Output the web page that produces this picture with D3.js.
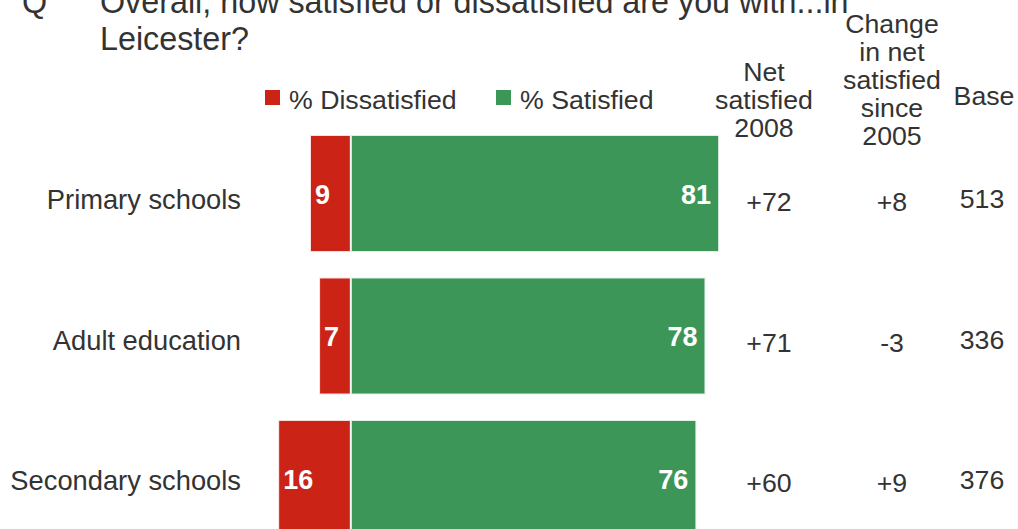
<!DOCTYPE html>
<html>
<head>
<meta charset="utf-8">
<script src="https://cdn.jsdelivr.net/npm/d3@7"></script>
<style>
  html, body { margin: 0; padding: 0; background: #fff; }
  svg { display: block; font-family: Arial, "Liberation Sans", sans-serif; }
</style>
</head>
<body>
<script>
// Satisfaction with education services in Leicester
const categories = ["Primary schools", "Adult education", "Secondary schools"];
const dissatisfied = [9, 7, 16];
const satisfied = [81, 78, 76];
const netSatisfied2008 = ["+72", "+71", "+60"];
const changeSince2005 = ["+8", "-3", "+9"];
const baseSizes = ["513", "336", "376"];

const seriesNames = ["% Dissatisfied", "% Satisfied"];
const seriesColors = ["#cc2317", "#3c9658"];
const columnHeaders = [
  ["Net", "satisfied", "2008"],
  ["Change", "in net", "satisfied", "since", "2005"],
  ["Base"]
];

const W = 1018, H = 529;
const textColor = "#333";

const svg = d3.select("body").append("svg")
  .attr("width", W).attr("height", H);

// Horizontal scale: dissatisfied to the left of zero, satisfied to the right
const x = d3.scaleLinear().domain([-20, 90]).range([260, 760]);
const y = d3.scaleBand().domain(categories)
  .range([122.25, 549.75]).paddingInner(0.179).paddingOuter(0.0895);
// Row text sits on a slightly tighter grid than the bars
const rowText = d3.scalePoint().domain(categories).range([194, 475]);

// Question title
const title = svg.append("g").attr("fill", textColor).style("font-size", "32.3px");
title.append("text").attr("x", 22).attr("y", 13).text("Q");
title.append("text").attr("x", 100).attr("y", 13)
  .text("Overall, how satisfied or dissatisfied are you with...in");
title.append("text").attr("x", 100).attr("y", 50).text("Leicester?");

// Legend
const legend = svg.append("g").style("font-size", "26.7px");
const legendX = [265, 496];
seriesNames.forEach((name, i) => {
  legend.append("rect").attr("x", legendX[i]).attr("y", 90)
    .attr("width", 15).attr("height", 15).attr("fill", seriesColors[i]);
  legend.append("text").attr("x", legendX[i] + 24).attr("y", 109)
    .attr("fill", textColor).text(name);
});

// Column headers
const headerCols = [
  { cx: 764, lines: columnHeaders[0], first: 81 },
  { cx: 892, lines: columnHeaders[1], first: 33 },
  { cx: 984, lines: columnHeaders[2], first: 105 }
];
const headers = svg.append("g").attr("fill", textColor)
  .style("font-size", "26.7px").attr("text-anchor", "middle");
headerCols.forEach(col => {
  col.lines.forEach((line, j) => {
    headers.append("text").attr("x", col.cx).attr("y", col.first + j * 28).text(line);
  });
});

const rows = categories.map((c, i) => ({
  cat: c, dis: dissatisfied[i], sat: satisfied[i],
  net: netSatisfied2008[i], chg: changeSince2005[i], base: baseSizes[i]
}));

const g = svg.append("g");

// Dissatisfied bars (to the left of zero)
g.selectAll("rect.dis").data(rows).join("rect")
  .attr("class", "dis")
  .attr("x", d => x(-d.dis))
  .attr("y", d => y(d.cat))
  .attr("width", d => x(0) - x(-d.dis))
  .attr("height", y.bandwidth())
  .attr("fill", seriesColors[0])
  .attr("stroke", "#fff").attr("stroke-width", 2).attr("stroke-opacity", 0.85);

// Satisfied bars (to the right of zero)
g.selectAll("rect.sat").data(rows).join("rect")
  .attr("class", "sat")
  .attr("x", x(0))
  .attr("y", d => y(d.cat))
  .attr("width", d => x(d.sat) - x(0))
  .attr("height", y.bandwidth())
  .attr("fill", seriesColors[1])
  .attr("stroke", "#fff").attr("stroke-width", 2).attr("stroke-opacity", 0.85);

const mid = d => y(d.cat) + y.bandwidth() / 2;

// Value labels inside bars
g.selectAll("text.disv").data(rows).join("text")
  .attr("x", d => x(-d.dis) + 5)
  .attr("y", d => mid(d) + 10)
  .attr("fill", "#fff").style("font-weight", "bold").style("font-size", "27px")
  .text(d => d.dis);
g.selectAll("text.satv").data(rows).join("text")
  .attr("x", d => x(d.sat) - 8)
  .attr("y", d => mid(d) + 10)
  .attr("text-anchor", "end")
  .attr("fill", "#fff").style("font-weight", "bold").style("font-size", "27px")
  .text(d => d.sat);

// Category labels
g.selectAll("text.cat").data(rows).join("text")
  .attr("x", 241).attr("y", d => rowText(d.cat) + 15)
  .attr("text-anchor", "end").attr("fill", textColor)
  .style("font-size", "27.3px")
  .text(d => d.cat);

// Table columns
const cols = [
  { cx: 769, key: "net", dy: 17 },
  { cx: 892, key: "chg", dy: 17 },
  { cx: 982, key: "base", dy: 14 }
];
cols.forEach(col => {
  g.selectAll("text.col-" + col.key).data(rows).join("text")
    .attr("class", "col-" + col.key)
    .attr("x", col.cx).attr("y", d => rowText(d.cat) + col.dy)
    .attr("text-anchor", "middle").attr("fill", textColor)
    .style("font-size", "26.7px")
    .text(d => d[col.key]);
});
</script>
</body>
</html>
